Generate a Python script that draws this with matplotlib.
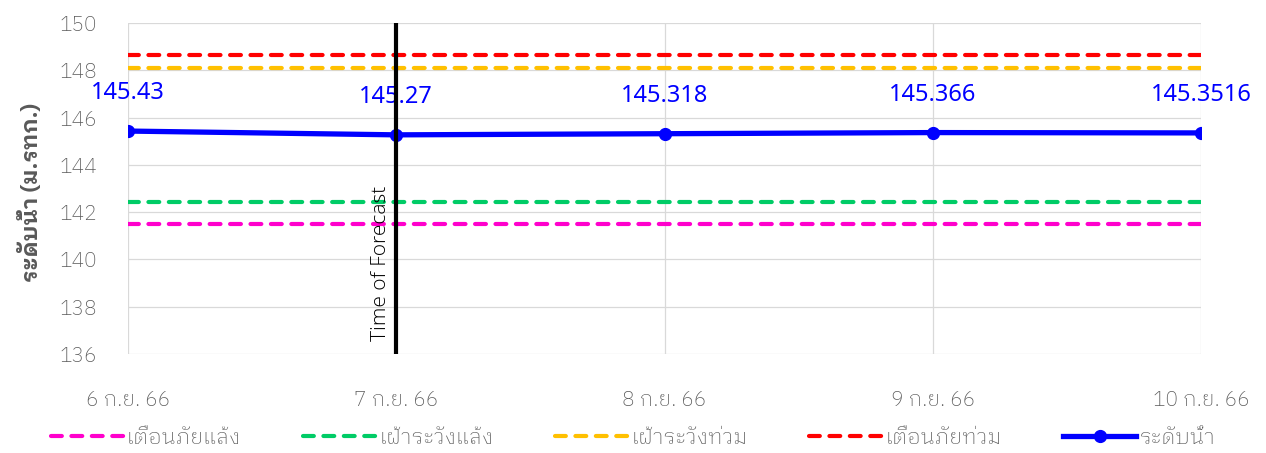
import matplotlib
matplotlib.use("Agg")
import numpy as np
from matplotlib import pyplot as plt

# ระดับน้ำรายวันและเกณฑ์เตือนภัย
dates = ['6 ก.ย. 66', '7 ก.ย. 66', '8 ก.ย. 66', '9 ก.ย. 66', '10 ก.ย. 66']
water_level = [145.43, 145.27, 145.318, 145.366, 145.3516]
drought_warn = [141.5] * 5
drought_watch = [142.45] * 5
flood_watch = [148.1] * 5
flood_warn = [148.65] * 5
forecast_idx = 1
yticks = [136, 138, 140, 142, 144, 146, 148, 150]

THAI = ['IBM Plex Sans Thai Looped', 'DejaVu Sans']
GREY = '#595959'

plt.rcParams['font.family'] = THAI

fig = plt.figure(figsize=(12.66, 4.53), dpi=100)
ax = fig.add_axes([0.1011, 0.2185, 0.8476, 0.7307])

x = np.arange(len(dates))
dash_kw = dict(lw=3.0, linestyle=(0, (2.6, 2.3)), dash_capstyle='round')
ax.plot(x, drought_warn, color='#FF00CC', label='เตือนภัยแล้ง', **dash_kw)
ax.plot(x, drought_watch, color='#00CC66', label='เฝ้าระวังแล้ง', **dash_kw)
ax.plot(x, flood_watch, color='#FFC000', label='เฝ้าระวังท่วม', **dash_kw)
ax.plot(x, flood_warn, color='#FF0000', label='เตือนภัยท่วม', **dash_kw)
ax.plot(x, water_level, color='#0000FF', lw=3.8, marker='o', markersize=8.5,
        label='ระดับน้ำ', zorder=4)

# ป้ายค่าระดับน้ำเหนือแต่ละจุด
for xi, v in zip(x, water_level):
    ax.annotate(str(v), xy=(xi, v), xytext=(0, 38), textcoords='offset pixels',
                ha='center', va='center', color='#0000FF', fontsize=17,
                family=['Noto Sans', 'DejaVu Sans'], zorder=5)

# เส้นเวลาพยากรณ์
ax.axvline(forecast_idx, color='black', lw=3, zorder=6)
ax.annotate('Time of Forecast', xy=(forecast_idx, yticks[0]), xytext=(-5, 13),
            textcoords='offset pixels', rotation=90, ha='right', va='bottom',
            fontsize=15, color='black', family=['Open Sans', 'DejaVu Sans'],
            fontweight='light')

ax.set_xlim(0, len(dates) - 1)
ax.set_ylim(yticks[0], yticks[-1])
ax.set_xticks(x)
ax.set_xticklabels(dates)
ax.set_yticks(yticks)
ax.grid(True, color='#D9D9D9', lw=0.9)
ax.set_axisbelow(True)
for s in ax.spines.values():
    s.set_visible(False)
ax.tick_params(length=0, labelsize=15, labelcolor=GREY)
ax.tick_params(axis='y', pad=22)
ax.tick_params(axis='x', pad=26)
for lbl in ax.get_xticklabels() + ax.get_yticklabels():
    lbl.set_fontweight('light')

fig.text(30 / 1266, 1 - 192 / 453, 'ระดับน้ำ (ม.รทก.)', rotation=90,
         ha='center', va='center', fontsize=16, fontweight='bold', color=GREY)

fig.legend(loc='center', bbox_to_anchor=(0.5, 1 - 438 / 453), ncol=5,
           frameon=False, handlelength=3.4, handletextpad=0.15,
           columnspacing=2.85, labelcolor=GREY, prop={'weight': 'light', 'size': 15.5})

fig.savefig('out.png', dpi=100)
